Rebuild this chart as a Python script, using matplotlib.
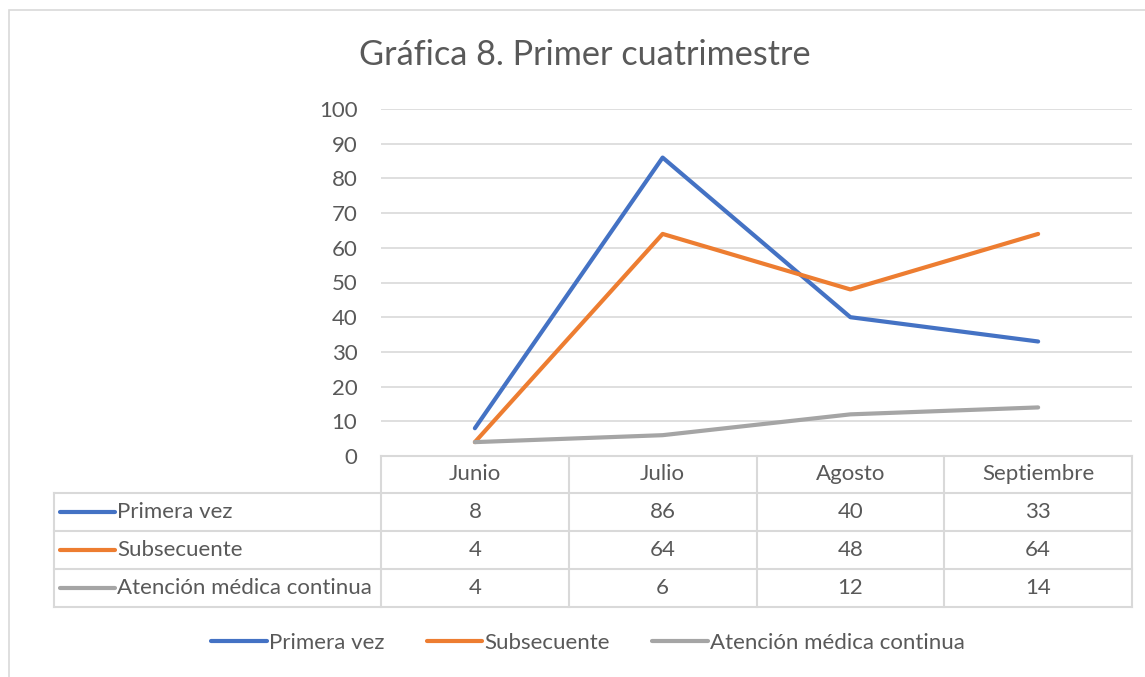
import matplotlib.pyplot as plt
from matplotlib.lines import Line2D
from matplotlib.patches import Rectangle
from matplotlib.transforms import blended_transform_factory

# data
months = ["Junio", "Julio", "Agosto", "Septiembre"]
primera_vez = [8, 86, 40, 33]
subsecuente = [4, 64, 48, 64]
atencion_continua = [4, 6, 12, 14]
series_names = ["Primera vez", "Subsecuente", "Atención médica continua"]
colors = ["#4472C4", "#ED7D31", "#A5A5A5"]
series = [primera_vez, subsecuente, atencion_continua]

plt.rcParams['font.family'] = ['Lato', 'DejaVu Sans']
text_c = '#595959'
grid_c = '#D9D9D9'
fs = 16

W, H = 1145, 677
fig = plt.figure(figsize=(W / 100, H / 100), dpi=100)


def fx(px):
    return px / W


def fy(py):
    return 1 - py / H


# outer chart border (right/bottom cut off in the original)
fig.add_artist(Rectangle((fx(9), fy(800)), 2, fy(10) - fy(800),
                         transform=fig.transFigure, fill=False,
                         edgecolor=grid_c, lw=1.2))

fig.text(fx(585), fy(55), "Gráfica 8. Primer cuatrimestre", ha='center',
         va='center', fontsize=24.7, color=text_c)

ax = fig.add_axes([fx(381), fy(456), fx(1132) - fx(381), fy(109) - fy(456)])
x = list(range(len(months)))
for vals, c, name in zip(series, colors, series_names):
    ax.plot(x, vals, color=c, lw=3, label=name,
            solid_joinstyle='round', solid_capstyle='round', zorder=3)

ax.set_xlim(-0.5, 3.5)
ax.set_ylim(0, 100)
ax.set_yticks(range(0, 101, 10))
ax.set_xticks([])
ax.grid(axis='y', color=grid_c, lw=1.2)
ax.set_axisbelow(True)
for s in ax.spines.values():
    s.set_visible(False)
ax.tick_params(axis='y', length=0, pad=17, labelsize=fs, labelcolor=text_c)

# data table under the plot
ah = 456 - 109
rows_px = [456, 492.7, 530.7, 569.3, 607.3]
rows = [(456 - p) / ah for p in rows_px]
x_left = (54 - 381) / (1132 - 381)
lkw = dict(color=grid_c, lw=1.5, transform=ax.transAxes, clip_on=False)

ax.plot([0, 1], [rows[0], rows[0]], **lkw)
for r in rows[1:]:
    ax.plot([x_left, 1], [r, r], **lkw)
for cx in [0, 0.25, 0.5, 0.75, 1]:
    ax.plot([cx, cx], [rows[0], rows[-1]], **lkw)
ax.plot([x_left, x_left], [rows[1], rows[-1]], **lkw)

tr = blended_transform_factory(ax.transData, ax.transAxes)
hdr_y = (rows[0] + rows[1]) / 2
for i, m in enumerate(months):
    ax.text(i, hdr_y, m, transform=tr, ha='center', va='center',
            fontsize=fs, color=text_c)

key_x0 = (60 - 381) / 751
key_x1 = (115 - 381) / 751
lab_x = (117 - 381) / 751
for k, (vals, c, name) in enumerate(zip(series, colors, series_names)):
    ry = (rows[k + 1] + rows[k + 2]) / 2
    ax.plot([key_x0, key_x1], [ry, ry], color=c, lw=3,
            solid_capstyle='round', transform=ax.transAxes, clip_on=False)
    ax.text(lab_x, ry, name, transform=ax.transAxes, ha='left', va='center',
            fontsize=fs, color=text_c)
    for i, v in enumerate(vals):
        ax.text(i, ry, str(v), transform=tr, ha='center', va='center',
                fontsize=fs, color=text_c)

# bottom legend
handles = [Line2D([0], [0], color=c, lw=3, solid_capstyle='round') for c in colors]
leg = fig.legend(handles, series_names, loc='center', ncol=3,
                 bbox_to_anchor=(fx(588), fy(643)), frameon=False,
                 fontsize=fs, handlelength=2.5, handletextpad=0.1,
                 columnspacing=1.9, labelcolor=text_c)

fig.savefig("out.png", dpi=100)
